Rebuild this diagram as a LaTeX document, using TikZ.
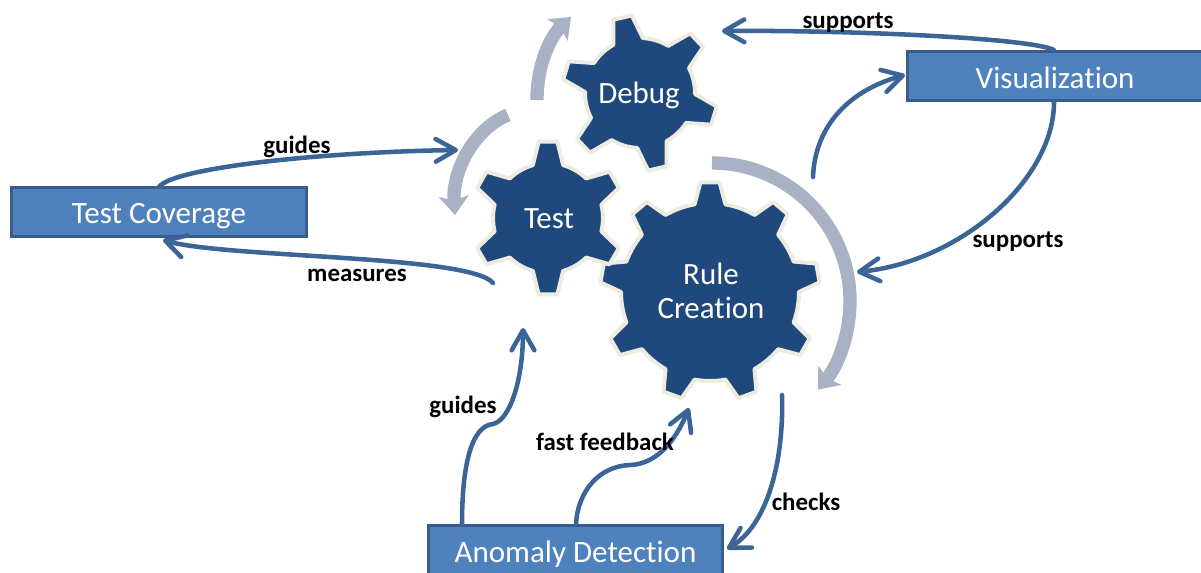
\documentclass[tikz,border=0pt]{standalone}
\usepackage{fontspec}
\setmainfont{Carlito}[Ligatures=NoCommon]
\usetikzlibrary{arrows.meta,calc}
\definecolor{gearblue}{HTML}{1F497D}
\definecolor{gearedge}{HTML}{EEECE1}
\definecolor{boxblue}{HTML}{4F81BD}
\definecolor{boxedge}{HTML}{385D8A}
\definecolor{linkblue}{HTML}{3A6596}
\definecolor{turn}{HTML}{A9B1C4}
\tikzset{
  gear/.style={fill=gearblue,draw=gearedge,line width=3pt,line join=round},
  gearlabel/.style={text=white,font=\fontsize{23.2}{27}\selectfont,align=center},
  boxnode/.style={fill=boxblue,draw=boxedge,line width=2.2pt,text=white,font=\fontsize{23.3}{27}\selectfont,inner sep=0pt,anchor=north west,text height=24pt,text depth=6pt},
  link/.style={draw=linkblue,line width=3.4pt,line cap=round,-{Straight Barb[round,length=15pt,width=17pt,line width=3.4pt]}},
  turnarrow/.style={draw=turn,line width=10pt,-{Stealth[length=14pt,width=22pt,inset=3pt]}},
  edgelabel/.style={text=black,font=\bfseries\fontsize{18.7}{22}\selectfont,inner sep=0pt}
}
% centre x, centre y, tip radius, root radius, teeth, first angle, tip half angle, base half angle
\newcommand{\gearshape}[8]{%
  \pgfmathsetmacro{\gstep}{360/#5}%
  \pgfmathsetmacro{\gfirst}{#6-#8}%
  \pgfmathtruncatemacro{\glast}{#5-1}%
  \draw[gear,shift={(#1,#2)}] (\gfirst:#4)
    \foreach \gi [evaluate=\gi as \ga using {#6+\gi*\gstep},
                  evaluate=\gi as \gb using {#6+\gi*\gstep+#8},
                  evaluate=\gi as \gc using {#6+(\gi+1)*\gstep-#8},
                  evaluate=\gi as \gd using {#6+\gi*\gstep-#8}] in {0,...,\glast} {
      -- (\gd:#4) -- (\ga-#7:#3) -- (\ga+#7:#3) -- (\gb:#4)
      arc[start angle=\gb,end angle=\gc,radius=#4]
    } -- cycle;
}
\begin{document}
\begin{tikzpicture}[x=0.75pt,y=-0.75pt]
\useasboundingbox (0,0) rectangle (1201,572);
% turning arrows
\draw[turnarrow] (712,163) arc[start angle=-90,end angle=40,radius=138];
\draw[turnarrow] (508,115) .. controls (475,128) and (452,170) .. (455,215);
\draw[turnarrow] (537,100) .. controls (537,65) and (550,37) .. (571,17);
% gears
\gearshape{710}{292}{110}{89}{9}{-90}{5}{10}
\gearshape{640}{93}{78}{55}{6}{-103}{7}{16}
\gearshape{548}{218}{77}{55}{6}{-90}{7}{16}
\node[gearlabel] (rule) at (711,291) {Rule\\[-2pt]Creation};
\node[gearlabel] (debug) at (639,95) {Debug};
\node[gearlabel] (test) at (549,219) {Test};
% boxes
\node[boxnode,minimum width=221.25pt,minimum height=36.75pt] (coverage) at (10,186) {Test Coverage};
\node[boxnode,minimum width=232pt,minimum height=37pt] (vis) at (906,50) {\hspace*{-10.5pt}Visualization};
\node[boxnode,minimum width=220.5pt,minimum height=37.5pt] (anomaly) at (427,524) {Anomaly Detection};
% connector ends
\coordinate (covtop) at (159,187);
\coordinate (testleft) at (458,150);
\coordinate (testback) at (493,283);
\coordinate (covbot) at (163,240);
\coordinate (vistop) at (1054,50);
\coordinate (debugright) at (722,31);
\coordinate (ruleup) at (813,177);
\coordinate (visleft) at (905,75);
\coordinate (visbot) at (1054,102);
\coordinate (ruleright) at (857,272);
\coordinate (anoma) at (462,524);
\coordinate (bend) at (493,424);
\coordinate (testbot) at (523,328);
\coordinate (anomb) at (576,524);
\coordinate (fbmid) at (630,465);
\coordinate (rulebot) at (689,408);
\coordinate (rulecheck) at (782,395);
\coordinate (anomright) at (727,549);
% connectors
\draw[link] (covtop) .. controls (172,168) and (320,152) .. (testleft);
\draw[link] (testback) .. controls (470,255) and (225,258) .. (covbot);
\draw[link] (vistop) .. controls (1030,38) and (850,30) .. (debugright);
\draw[link] (ruleup) .. controls (815,125) and (850,90) .. (visleft);
\draw[link] (visbot) .. controls (1054,180) and (960,262) .. (ruleright);
\draw[link] (anoma) .. controls (462,470) and (470,426) .. (bend) .. controls (510,420) and (523,380) .. (testbot);
\draw[link] (anomb) .. controls (578,490) and (600,466) .. (fbmid) .. controls (660,464) and (678,435) .. (rulebot);
\draw[link] (rulecheck) .. controls (784,460) and (768,525) .. (anomright);
% labels
\node[edgelabel] (l1) at (297,147) {guides};
\node[edgelabel] (l2) at (357,275) {measures};
\node[edgelabel] (l3) at (848,23) {supports};
\node[edgelabel] (l4) at (1018,242) {supports};
\node[edgelabel] (l5) at (463,407) {guides};
\node[edgelabel] (l6) at (605,442) {fast feedback};
\node[edgelabel] (l7) at (806,502) {checks};
\end{tikzpicture}
\end{document}
